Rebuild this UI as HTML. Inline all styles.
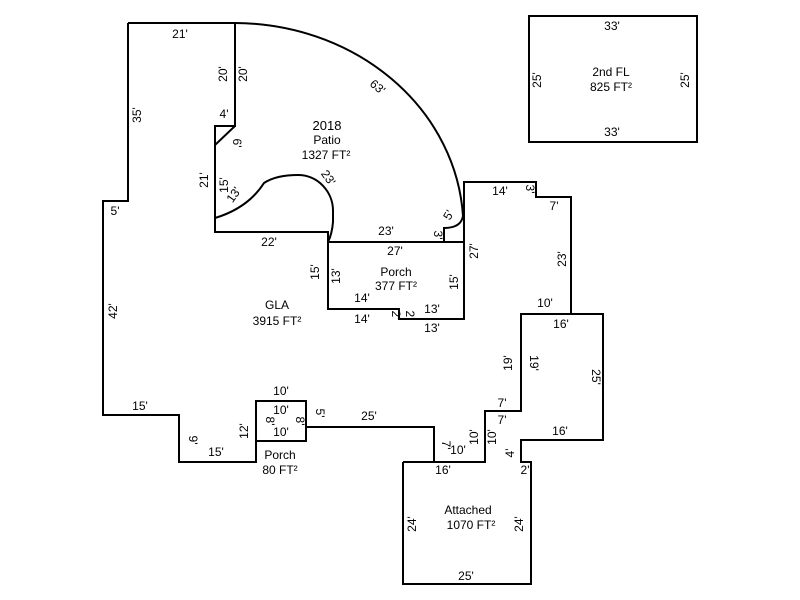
<!DOCTYPE html>
<html><head><meta charset="utf-8"><style>
html,body{margin:0;padding:0;background:#fff;}
svg{display:block;}
text{font-family:"Liberation Sans",Arial,sans-serif;font-size:12px;fill:#000;text-anchor:middle;}
</style></head><body>
<svg width="800" height="600" viewBox="0 0 800 600">
<g fill="none" stroke="#000" stroke-width="2">
<!-- GLA outline -->
<path d="M128,23 L235,23 L235,126 L215,126 L215,232 L328,232 L328,309 L399,309 L399,319 L464,319 L464,182 L536,182 L536,197 L571,197 L571,314 L521,314 L521,411 L485,411 L485,462 L434,462 L434,427 L306,427"/>
<path d="M256,441 L256,462 L179,462 L179,415 L103,415 L103,201 L128,201 L128,23"/>
<!-- small porch -->
<rect x="256" y="401" width="50" height="40"/>
<!-- triangle diag -->
<path d="M235,126 L215,145"/>
<!-- patio arc -->
<path d="M235,23 A 229 205 0 0 1 463,216 Q461,228 444,228 L444,242"/>
<!-- inner arc -->
<path d="M215,218 Q248,208 264,183 Q276,175 298,175 A 35 36 0 0 1 333,212 L333,222 Q332,234 328,242"/>
<!-- porch 377 top -->
<path d="M328,242 L464,242"/>
<!-- attached -->
<path d="M403,462 L485,462 M403,462 L403,584 L531,584 L531,462 L521,462 L521,440 L603,440 L603,314 L521,314"/>
<!-- 2nd FL -->
<rect x="529" y="16" width="168" height="126"/>
</g>
<g>
<text x="180" y="38">21'</text>
<text x="141" y="115" transform="rotate(-90 141 115)">35'</text>
<text x="115" y="215">5'</text>
<text x="117" y="311" transform="rotate(-90 117 311)">42'</text>
<text x="140" y="410">15'</text>
<text x="189" y="440" transform="rotate(90 189 440)">9'</text>
<text x="216" y="456">15'</text>
<text x="248" y="431" transform="rotate(-90 248 431)">12'</text>
<text x="281" y="395">10'</text>
<text x="281" y="414">10'</text>
<text x="281" y="436">10'</text>
<text x="266" y="421" transform="rotate(90 266 421)">8'</text>
<text x="296" y="421" transform="rotate(90 296 421)">8'</text>
<text x="316" y="413" transform="rotate(90 316 413)">5'</text>
<text x="280" y="459">Porch</text>
<text x="280" y="474">80 FT²</text>
<text x="369" y="420">25'</text>
<text x="442" y="445" transform="rotate(90 442 445)">7'</text>
<text x="458" y="454">10'</text>
<text x="478" y="437" transform="rotate(-90 478 437)">10'</text>
<text x="496" y="437" transform="rotate(-90 496 437)">10'</text>
<text x="443" y="474">16'</text>
<text x="502" y="407">7'</text>
<text x="502" y="424">7'</text>
<text x="512" y="363" transform="rotate(-90 512 363)">19'</text>
<text x="530" y="363" transform="rotate(90 530 363)">19'</text>
<text x="545" y="307">10'</text>
<text x="561" y="328">16'</text>
<text x="592" y="377" transform="rotate(90 592 377)">25'</text>
<text x="560" y="435">16'</text>
<text x="514" y="453" transform="rotate(-90 514 453)">4'</text>
<text x="525" y="474">2'</text>
<text x="468" y="514">Attached</text>
<text x="471" y="529">1070 FT²</text>
<text x="416" y="524" transform="rotate(-90 416 524)">24'</text>
<text x="523" y="524" transform="rotate(-90 523 524)">24'</text>
<text x="466" y="580">25'</text>
<text x="566" y="259" transform="rotate(-90 566 259)">23'</text>
<text x="554" y="210">7'</text>
<text x="526" y="189" transform="rotate(90 526 189)">3'</text>
<text x="500" y="195">14'</text>
<text x="478" y="251" transform="rotate(-90 478 251)">27'</text>
<text x="458" y="282" transform="rotate(-90 458 282)">15'</text>
<text x="432" y="313">13'</text>
<text x="432" y="332">13'</text>
<text x="392" y="315" transform="rotate(90 392 315)">2'</text>
<text x="406" y="315" transform="rotate(90 406 315)">2'</text>
<text x="362" y="302">14'</text>
<text x="362" y="323">14'</text>
<text x="340" y="276" transform="rotate(-90 340 276)">13'</text>
<text x="319" y="272" transform="rotate(-90 319 272)">15'</text>
<text x="395" y="255">27'</text>
<text x="396" y="276">Porch</text>
<text x="396" y="290">377 FT²</text>
<text x="386" y="235">23'</text>
<text x="434" y="235" transform="rotate(90 434 235)">3'</text>
<text x="452" y="217" transform="rotate(-60 452 217)">5'</text>
<text x="269" y="246">22'</text>
<text x="277" y="309">GLA</text>
<text x="277" y="325">3915 FT²</text>
<text x="208" y="180" transform="rotate(-90 208 180)">21'</text>
<text x="228" y="185" transform="rotate(-90 228 185)">15'</text>
<text x="237" y="197" transform="rotate(-55 237 197)">13'</text>
<text x="325" y="180" transform="rotate(55 325 180)">23'</text>
<text x="227" y="74" transform="rotate(-90 227 74)">20'</text>
<text x="247" y="74" transform="rotate(-90 247 74)">20'</text>
<text x="224" y="118">4'</text>
<text x="233" y="143" transform="rotate(90 233 143)">6'</text>
<text x="327" y="130" style="font-size:13px">2018</text>
<text x="327" y="144">Patio</text>
<text x="326" y="159">1327 FT²</text>
<text x="375" y="90" transform="rotate(40 375 90)">63'</text>
<text x="612" y="30">33'</text>
<text x="612" y="136">33'</text>
<text x="541" y="80" transform="rotate(-90 541 80)">25'</text>
<text x="689" y="80" transform="rotate(-90 689 80)">25'</text>
<text x="611" y="76">2nd FL</text>
<text x="611" y="91">825 FT²</text>
</g>
</svg>
</body></html>
